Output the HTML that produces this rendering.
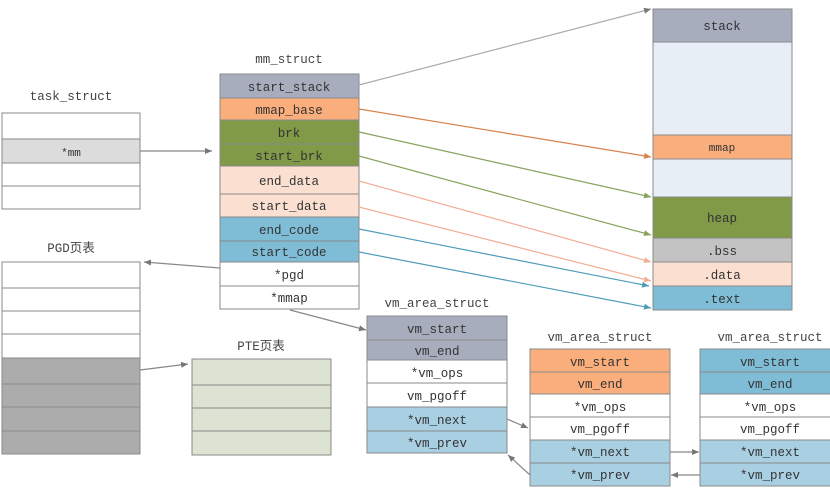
<!DOCTYPE html>
<html><head><meta charset="utf-8"><style>
html,body{margin:0;padding:0;background:#fff;}
svg{display:block;}
text{font-family:"Liberation Mono","Noto Sans CJK SC",monospace;font-size:12.5px;fill:#333;text-anchor:middle;}
.t{font-size:12.5px;fill:#444;}
</style></head><body>
<svg width="830" height="488" viewBox="0 0 830 488" xmlns="http://www.w3.org/2000/svg">
<defs>
<marker id="ag" markerWidth="8" markerHeight="8" refX="7" refY="4" orient="auto" markerUnits="userSpaceOnUse"><path d="M0,1 L7,4 L0,7 z" fill="#777"/></marker>
<marker id="ao" markerWidth="8" markerHeight="8" refX="7" refY="4" orient="auto" markerUnits="userSpaceOnUse"><path d="M0,1 L7,4 L0,7 z" fill="#d9824a"/></marker>
<marker id="agr" markerWidth="8" markerHeight="8" refX="7" refY="4" orient="auto" markerUnits="userSpaceOnUse"><path d="M0,1 L7,4 L0,7 z" fill="#86a25a"/></marker>
<marker id="ap" markerWidth="8" markerHeight="8" refX="7" refY="4" orient="auto" markerUnits="userSpaceOnUse"><path d="M0,1 L7,4 L0,7 z" fill="#f3ad95"/></marker>
<marker id="ab" markerWidth="8" markerHeight="8" refX="7" refY="4" orient="auto" markerUnits="userSpaceOnUse"><path d="M0,1 L7,4 L0,7 z" fill="#4f9cb8"/></marker>
</defs>
<g stroke="#8a8a8a" stroke-width="1">
<!-- right memory column -->
<rect x="653" y="9" width="139" height="33" fill="#a8adbd"/>
<rect x="653" y="42" width="139" height="93" fill="#e8eef6"/>
<rect x="653" y="135" width="139" height="24" fill="#f9ae7c"/>
<rect x="653" y="159" width="139" height="38" fill="#e8eef6"/>
<rect x="653" y="197" width="139" height="41" fill="#809a48"/>
<rect x="653" y="238" width="139" height="24" fill="#c3c3c3"/>
<rect x="653" y="262" width="139" height="24" fill="#fbdfd1"/>
<rect x="653" y="286" width="139" height="24" fill="#7fbcd6"/>
<!-- mm_struct -->
<rect x="220" y="74" width="139" height="24" fill="#a8adbd"/>
<rect x="220" y="98" width="139" height="22" fill="#f9ae7c"/>
<rect x="220" y="120" width="139" height="24" fill="#809a48"/>
<rect x="220" y="144" width="139" height="22" fill="#809a48"/>
<rect x="220" y="166" width="139" height="28" fill="#fbdfd1"/>
<rect x="220" y="194" width="139" height="23" fill="#fbdfd1"/>
<rect x="220" y="217" width="139" height="24" fill="#7fbcd6"/>
<rect x="220" y="241" width="139" height="21" fill="#7fbcd6"/>
<rect x="220" y="262" width="139" height="24" fill="#fff"/>
<rect x="220" y="286" width="139" height="23" fill="#fff"/>
<!-- task_struct -->
<rect x="2" y="113" width="138" height="26" fill="#fff"/>
<rect x="2" y="139" width="138" height="24" fill="#dcdcdc"/>
<rect x="2" y="163" width="138" height="23" fill="#fff"/>
<rect x="2" y="186" width="138" height="23" fill="#fff"/>
<!-- PGD -->
<rect x="2" y="262" width="138" height="26" fill="#fff"/>
<rect x="2" y="288" width="138" height="23" fill="#fff"/>
<rect x="2" y="311" width="138" height="23" fill="#fff"/>
<rect x="2" y="334" width="138" height="24" fill="#fff"/>
<rect x="2" y="358" width="138" height="26" fill="#acacac"/>
<rect x="2" y="384" width="138" height="23" fill="#acacac"/>
<rect x="2" y="407" width="138" height="24" fill="#acacac"/>
<rect x="2" y="431" width="138" height="23" fill="#acacac"/>
<!-- PTE -->
<rect x="192" y="359" width="139" height="26" fill="#dde3d2"/>
<rect x="192" y="385" width="139" height="23" fill="#dde3d2"/>
<rect x="192" y="408" width="139" height="23" fill="#dde3d2"/>
<rect x="192" y="431" width="139" height="24" fill="#dde3d2"/>
<!-- vm1 -->
<rect x="367" y="316" width="140" height="24" fill="#a8adbd"/>
<rect x="367" y="340" width="140" height="20" fill="#a8adbd"/>
<rect x="367" y="360" width="140" height="23" fill="#fff"/>
<rect x="367" y="383" width="140" height="24" fill="#fff"/>
<rect x="367" y="407" width="140" height="24" fill="#a9cfe2"/>
<rect x="367" y="431" width="140" height="22" fill="#a9cfe2"/>
<!-- vm2 -->
<rect x="530" y="349" width="140" height="23" fill="#f9ae7c"/>
<rect x="530" y="372" width="140" height="22" fill="#f9ae7c"/>
<rect x="530" y="394" width="140" height="23" fill="#fff"/>
<rect x="530" y="417" width="140" height="23" fill="#fff"/>
<rect x="530" y="440" width="140" height="23" fill="#a9cfe2"/>
<rect x="530" y="463" width="140" height="23" fill="#a9cfe2"/>
<!-- vm3 -->
<rect x="700" y="349" width="140" height="23" fill="#7fbcd6"/>
<rect x="700" y="372" width="140" height="22" fill="#7fbcd6"/>
<rect x="700" y="394" width="140" height="23" fill="#fff"/>
<rect x="700" y="417" width="140" height="23" fill="#fff"/>
<rect x="700" y="440" width="140" height="23" fill="#a9cfe2"/>
<rect x="700" y="463" width="140" height="23" fill="#a9cfe2"/>
</g>
<!-- arrows -->
<g fill="none" stroke-width="1.2">
<line x1="359" y1="85" x2="651" y2="9" stroke="#aaa" marker-end="url(#ag)"/>
<line x1="359" y1="109" x2="651" y2="157" stroke="#d9824a" marker-end="url(#ao)"/>
<line x1="359" y1="132" x2="651" y2="197" stroke="#86a25a" marker-end="url(#agr)"/>
<line x1="359" y1="156" x2="651" y2="235" stroke="#86a25a" marker-end="url(#agr)"/>
<line x1="359" y1="181" x2="651" y2="262" stroke="#f3ad95" marker-end="url(#ap)"/>
<line x1="359" y1="207" x2="651" y2="281" stroke="#f3ad95" marker-end="url(#ap)"/>
<line x1="359" y1="229" x2="649" y2="286" stroke="#4f9cb8" marker-end="url(#ab)"/>
<line x1="359" y1="252" x2="651" y2="308" stroke="#4f9cb8" marker-end="url(#ab)"/>
<g stroke="#888">
<line x1="140" y1="151" x2="212" y2="151" marker-end="url(#ag)"/>
<line x1="220" y1="268" x2="144" y2="262" marker-end="url(#ag)"/>
<line x1="290" y1="310" x2="366" y2="330" marker-end="url(#ag)"/>
<line x1="140" y1="370" x2="188" y2="364" marker-end="url(#ag)"/>
<line x1="507" y1="419" x2="528" y2="428" marker-end="url(#ag)"/>
<line x1="530" y1="475" x2="508" y2="455" marker-end="url(#ag)"/>
<line x1="670" y1="452" x2="699" y2="452" marker-end="url(#ag)"/>
<line x1="700" y1="475" x2="671" y2="475" marker-end="url(#ag)"/>
</g>
</g>
<!-- text -->
<text x="722" y="30">stack</text>
<text x="722" y="151" style="font-size:11px">mmap</text>
<text x="722" y="222">heap</text>
<text x="722" y="255">.bss</text>
<text x="722" y="279">.data</text>
<text x="722" y="303">.text</text>

<text x="289" y="63" class="t">mm_struct</text>
<text x="289" y="91">start_stack</text>
<text x="289" y="114">mmap_base</text>
<text x="289" y="137">brk</text>
<text x="289" y="160">start_brk</text>
<text x="289" y="185">end_data</text>
<text x="289" y="210">start_data</text>
<text x="289" y="234">end_code</text>
<text x="289" y="256">start_code</text>
<text x="289" y="279">*pgd</text>
<text x="289" y="302">*mmap</text>

<text x="71" y="100" class="t">task_struct</text>
<text x="71" y="156" style="font-size:11px">*mm</text>
<text x="71" y="252" class="t">PGD页表</text>
<text x="261" y="350" class="t">PTE页表</text>

<text x="437" y="307" class="t">vm_area_struct</text>
<text x="437" y="333">vm_start</text>
<text x="437" y="355">vm_end</text>
<text x="437" y="377">*vm_ops</text>
<text x="437" y="400">vm_pgoff</text>
<text x="437" y="424">*vm_next</text>
<text x="437" y="447">*vm_prev</text>

<text x="600" y="341" class="t">vm_area_struct</text>
<text x="600" y="366">vm_start</text>
<text x="600" y="388">vm_end</text>
<text x="600" y="411">*vm_ops</text>
<text x="600" y="433">vm_pgoff</text>
<text x="600" y="456">*vm_next</text>
<text x="600" y="479">*vm_prev</text>

<text x="770" y="341" class="t">vm_area_struct</text>
<text x="770" y="366">vm_start</text>
<text x="770" y="388">vm_end</text>
<text x="770" y="411">*vm_ops</text>
<text x="770" y="433">vm_pgoff</text>
<text x="770" y="456">*vm_next</text>
<text x="770" y="479">*vm_prev</text>
</svg>
</body></html>
